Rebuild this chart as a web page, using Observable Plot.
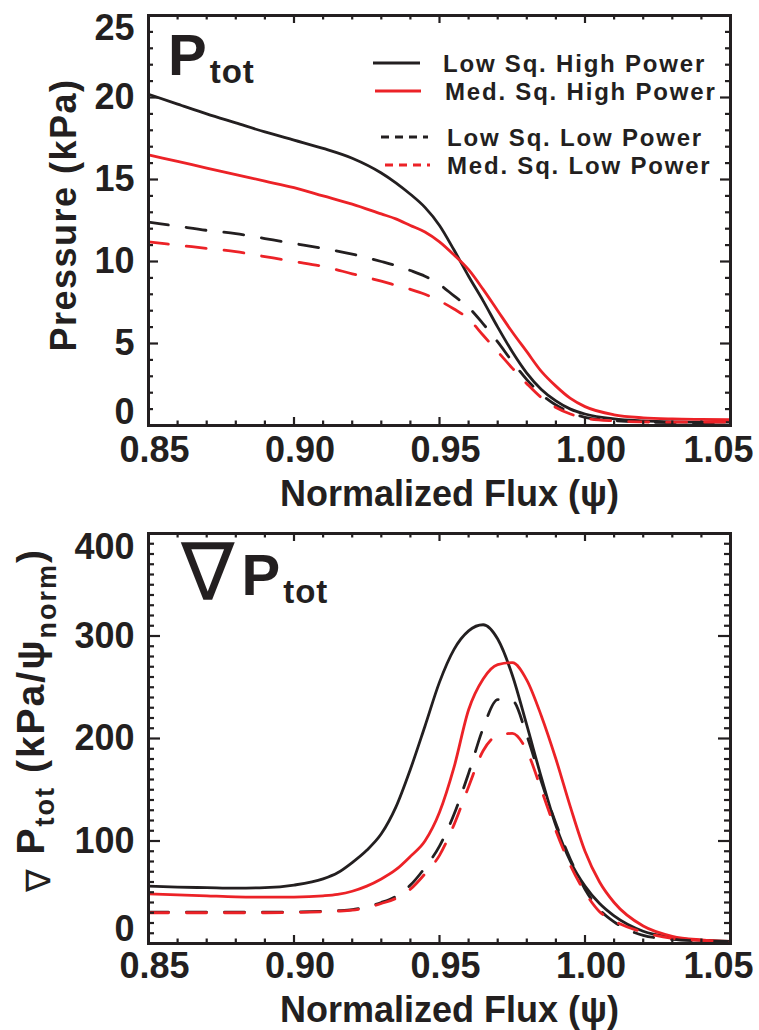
<!DOCTYPE html>
<html>
<head>
<meta charset="utf-8">
<script src="https://cdn.jsdelivr.net/npm/d3@7"></script>
<script src="https://cdn.jsdelivr.net/npm/@observablehq/plot@0.6"></script>
<style>
  html, body { margin: 0; padding: 0; background: #fff; }
  #chart svg { display: block; }
</style>
</head>
<body>
<div id="chart"></div>
<script>
// ---------- data ----------
const seriesNames = ["Low Sq. High Power", "Med. Sq. High Power", "Low Sq. Low Power", "Med. Sq. Low Power"];

// Top panel: total pressure (kPa) vs normalized flux
const psiTop = [0.85,0.86,0.87,0.88,0.89,0.90,0.91,0.92,0.93,0.935,0.94,0.945,0.95,0.955,0.96,0.965,0.97,0.975,0.98,0.985,0.99,0.995,1.00,1.01,1.02,1.03,1.04,1.05];
const pLowSqHighPower = [20.2,19.6,19.0,18.45,17.9,17.4,16.9,16.3,15.4,14.8,14.1,13.3,12.2,10.7,9.1,7.6,6.0,4.5,3.2,2.2,1.5,1.0,0.7,0.4,0.28,0.22,0.2,0.2];
const pMedSqHighPower = [16.5,16.1,15.7,15.3,14.9,14.5,14.0,13.5,12.9,12.6,12.2,11.8,11.2,10.4,9.5,8.3,7.0,5.7,4.5,3.3,2.4,1.65,1.15,0.65,0.47,0.4,0.37,0.35];
const pLowSqLowPower  = [12.4,12.15,11.9,11.7,11.4,11.1,10.8,10.45,10.0,9.75,9.45,9.1,8.6,7.9,7.2,6.2,5.1,3.9,2.8,1.9,1.25,0.8,0.5,0.3,0.22,0.18,0.16,0.15];
const pMedSqLowPower  = [11.2,11.0,10.8,10.6,10.3,10.0,9.7,9.25,8.8,8.55,8.3,8.0,7.6,7.1,6.5,5.5,4.5,3.5,2.55,1.7,1.1,0.7,0.45,0.28,0.22,0.2,0.2,0.2];

// Bottom panel: pressure gradient (kPa/psi_norm) vs normalized flux
const psiGrad = [0.85,0.86,0.87,0.88,0.89,0.90,0.91,0.915,0.92,0.925,0.93,0.935,0.94,0.945,0.95,0.955,0.96,0.965,0.97,0.975,0.98,0.985,0.99,0.995,1.00,1.005,1.01,1.02,1.03,1.04,1.05];
const gLowSqHighPower = [56,55,54.5,54,54.5,57,63,69,79,91,107,133,170,212,255,287,305,311,297,262,213,162,115,80,56,39,27,12,6,3,2];
const gMedSqHighPower = [48.5,47.5,46.5,45.5,45.2,45.3,46.5,48,51,56,63,72,85,100,128,172,228,258,272,274,257,222,180,133,90,60,40,17,7,3.5,2];
const gLowSqLowPower  = [30.5,30.5,30.5,30.5,30.5,30.8,31.5,32,33,36,40,46,57,74,95,126,166,210,238,237,203,158,117,82,53,33,21,8,4,2.5,2];
const gMedSqLowPower  = [30,30,30,30,30,30.3,31,31.5,32.5,35,39,44,53,68,86,116,153,188,203,205,188,150,110,76,50,31,22,11,5,3,2];

// Ticks
const xMajorTicks = [0.85, 0.90, 0.95, 1.00, 1.05];
const xMinorTicks = [0.86,0.87,0.88,0.89,0.91,0.92,0.93,0.94,0.96,0.97,0.98,0.99,1.01,1.02,1.03,1.04];
const topYMajor = [0, 5, 10, 15, 20, 25];
const topYMinor = [1,2,3,4,6,7,8,9,11,12,13,14,16,17,18,19,21,22,23,24];
const botYMajor = [0, 100, 200, 300, 400];
const botYMinor = d3.range(10, 400, 10).filter(v => v % 100 !== 0);

// ---------- styling ----------
const W = 759;
const INK = "#231f20", RED = "#ec2227";
const FONT = "'Liberation Sans', Arial, Helvetica, sans-serif";
const seriesStroke = [INK, RED, INK, RED];
const seriesDash = [null, null, "20,18", "20,18"];
const ML = 148, MR = 29;
const X_DOMAIN = [0.85, 1.05];

function rows(psi, vals) { return psi.map((p, i) => ({psi: p, v: vals[i]})); }

function panel(o) {
  const innerH = o.height - o.marginTop - o.marginBottom;
  const innerW = W - ML - MR;
  const [yLo, yHi] = o.yDomain, [xLo, xHi] = X_DOMAIN;
  // tick lengths (pixels) expressed in data units so the ticks sit inside the frame
  const ty = px => px * (yHi - yLo) / innerH;
  const tx = px => px * (xHi - xLo) / innerW;
  const tick = {stroke: INK, strokeWidth: 2.2};
  const lab = {fontSize: 36, fontWeight: "bold", fill: INK, style: "letter-spacing:1px"};
  const ym = o.yMajLen;
  const marks = [];
  o.series.forEach((vals, i) => marks.push(
    Plot.line(rows(o.psi, vals), {x: "psi", y: "v", stroke: seriesStroke[i], strokeWidth: 2.8,
      strokeDasharray: seriesDash[i], curve: "monotone-x"})
  ));
  marks.push(
    Plot.ruleX(xMajorTicks, {x: d => d, y1: yLo, y2: yLo + ty(8), ...tick}),
    Plot.ruleX(xMajorTicks, {x: d => d, y1: yHi, y2: yHi - ty(8), ...tick}),
    Plot.ruleX(xMinorTicks, {x: d => d, y1: yLo, y2: yLo + ty(4.5), ...tick}),
    Plot.ruleX(xMinorTicks, {x: d => d, y1: yHi, y2: yHi - ty(4.5), ...tick}),
    Plot.ruleY(o.yMajor, {y: d => d, x1: xLo, x2: xLo + tx(ym), ...tick}),
    Plot.ruleY(o.yMajor, {y: d => d, x1: xHi, x2: xHi - tx(ym), ...tick}),
    Plot.ruleY(o.yMinor, {y: d => d, x1: xLo, x2: xLo + tx(ym / 2), ...tick}),
    Plot.ruleY(o.yMinor, {y: d => d, x1: xHi, x2: xHi - tx(ym / 2), ...tick}),
    Plot.frame({stroke: INK, strokeWidth: 3}),
    // x tick labels
    Plot.text(xMajorTicks.slice(0, -1), {x: d => d, text: d => d.toFixed(2), frameAnchor: "bottom", lineAnchor: "middle", dy: o.xLabDy, dx: 6, ...lab}),
    Plot.text(xMajorTicks.slice(-1), {x: d => d, text: d => d.toFixed(2), frameAnchor: "bottom", lineAnchor: "middle", dy: o.xLabDy, dx: 23, textAnchor: "end", ...lab}),
    // y tick labels
    Plot.text(o.yMajor.slice(1, -1), {y: d => d, text: d => String(d), frameAnchor: "left", lineAnchor: "middle", textAnchor: "end", dx: -14, ...lab}),
    Plot.text(o.yMajor.slice(0, 1), {y: d => d, text: d => String(d), frameAnchor: "left", lineAnchor: "middle", textAnchor: "end", dx: -14, dy: -o.edgeShift, ...lab}),
    Plot.text(o.yMajor.slice(-1), {y: d => d, text: d => String(d), frameAnchor: "left", lineAnchor: "middle", textAnchor: "end", dx: -14, dy: o.edgeShift, ...lab}),
    // x axis title
    Plot.text(["Normalized Flux (\u03c8)"], {text: d => d, frameAnchor: "bottom", lineAnchor: "middle", dy: o.xTitleDy, dx: 10, ...lab}),
    ...o.extra
  );
  return Plot.plot({
    width: W, height: o.height,
    marginLeft: ML, marginRight: MR, marginTop: o.marginTop, marginBottom: o.marginBottom,
    x: {domain: X_DOMAIN, axis: null},
    y: {domain: o.yDomain, axis: null},
    style: {fontFamily: FONT, color: INK, background: "#fff", overflow: "visible"},
    marks
  });
}

// Custom render marks (text with subscripts, legend)
function richText(x, y, parts, {rotate = 0, anchor = "start", spacing = "1px"} = {}) {
  return () => {
    const t = d3.create("svg:text")
      .attr("transform", `translate(${x},${y})` + (rotate ? ` rotate(${rotate})` : ""))
      .attr("text-anchor", anchor).attr("fill", INK).attr("font-family", FONT).attr("font-weight", "bold")
      .style("letter-spacing", spacing);
    for (const p of parts) {
      const s = t.append("tspan").text(p.text).attr("font-size", p.size);
      if (p.dy) s.attr("dy", p.dy);
      if (p.dx) s.attr("dx", p.dx);
      if (p.family) s.attr("font-family", p.family).attr("font-weight", p.weight || "normal");
    }
    return t.node();
  };
}

function legendMark() {
  const items = [
    {i: 0, x1: 373, x2: 420, y: 63, tx: 443},
    {i: 1, x1: 375, x2: 421, y: 91, tx: 445},
    {i: 2, x1: 381, x2: 428, y: 137, tx: 447},
    {i: 3, x1: 385, x2: 430, y: 165, tx: 447}
  ];
  return () => {
    const g = d3.create("svg:g").attr("text-anchor", "start");
    for (const it of items) {
      g.append("line").attr("x1", it.x1).attr("x2", it.x2).attr("y1", it.y).attr("y2", it.y)
        .attr("stroke", seriesStroke[it.i]).attr("stroke-width", 2.8)
        .attr("stroke-dasharray", seriesDash[it.i] ? "8,6" : null);
      g.append("text").attr("x", it.tx).attr("y", it.y + 8.5).attr("text-anchor", "start")
        .attr("font-family", FONT).attr("font-weight", "bold").attr("font-size", 24)
        .style("letter-spacing", "1.8px").attr("fill", INK).text(seriesNames[it.i]);
    }
    return g.node();
  };
}

const topPanel = panel({
  height: 520, marginTop: 15, marginBottom: 95,
  psi: psiTop, series: [pLowSqHighPower, pMedSqHighPower, pLowSqLowPower, pMedSqLowPower],
  yDomain: [0, 25], yMajor: topYMajor, yMinor: topYMinor, yMajLen: 10, edgeShift: 13,
  xLabDy: 25, xTitleDy: 69,
  extra: [
    richText(168, 75, [{text: "P", size: 58}, {text: "tot", size: 33, dy: 8, dx: 2}]),
    richText(76, 215, [{text: "Pressure (kPa)", size: 36}], {rotate: -90, anchor: "middle", spacing: "1.5px"}),
    legendMark()
  ]
});

const bottomPanel = panel({
  height: 510, marginTop: 13, marginBottom: 87,
  psi: psiGrad, series: [gLowSqHighPower, gMedSqHighPower, gLowSqLowPower, gMedSqLowPower],
  yDomain: [0, 400], yMajor: botYMajor, yMinor: botYMinor, yMajLen: 12, edgeShift: 14,
  xLabDy: 23, xTitleDy: 67,
  extra: [
    richText(181, 80, [
      {text: "\u2207", size: 80, family: "DejaVu Sans", weight: "normal"},
      {text: "P", size: 58, dx: 6, dy: -5},
      {text: "tot", size: 33, dy: 8, dx: 2}
    ]),
    richText(44, 200, [
      {text: "\u2207", size: 34, dy: 6, family: "DejaVu Sans", weight: "normal"},
      {text: " P", size: 39, dy: -6},
      {text: "tot", size: 27, dy: 10},
      {text: " (kPa/\u03c8", size: 39, dy: -10},
      {text: "norm", size: 27, dy: 12},
      {text: ")", size: 39, dy: -12}
    ], {rotate: -90, anchor: "middle", spacing: "2px"})
  ]
});

document.getElementById("chart").append(topPanel, bottomPanel);
</script>
</body>
</html>
